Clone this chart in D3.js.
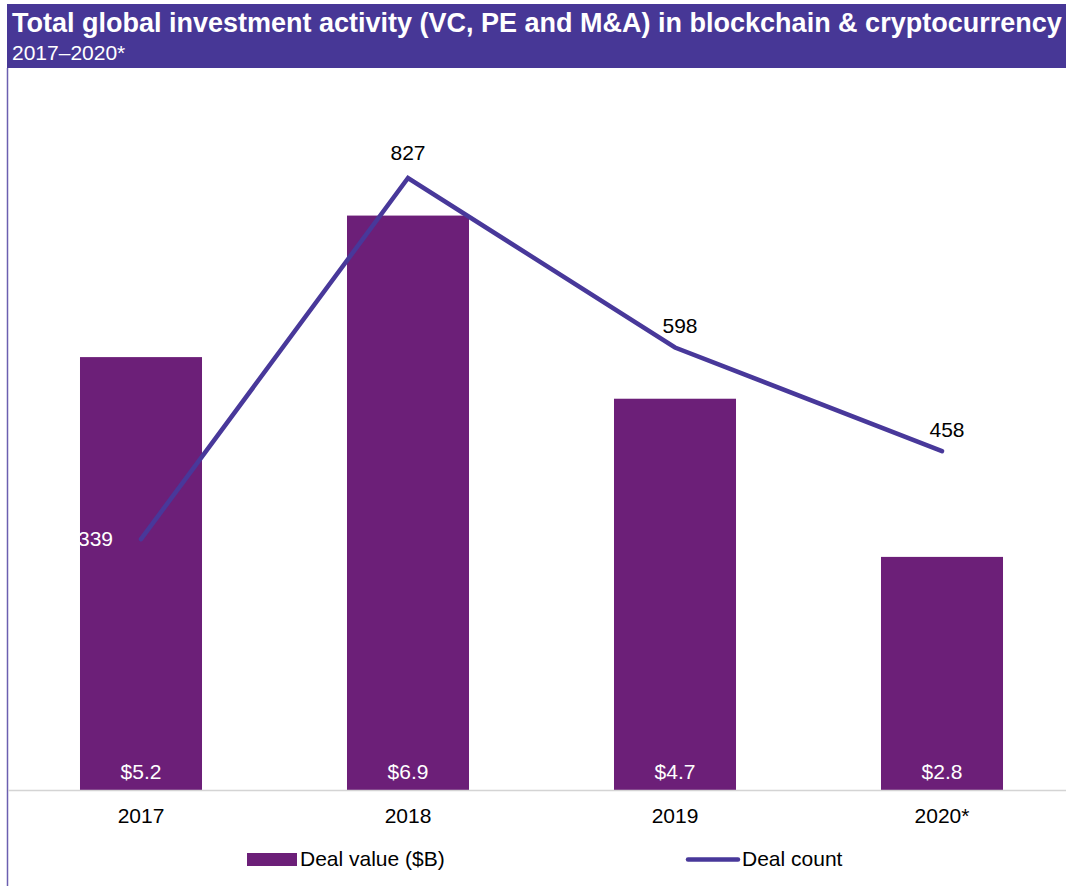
<!DOCTYPE html>
<html>
<head>
<meta charset="utf-8">
<script src="https://cdn.jsdelivr.net/npm/d3@7"></script>
<style>
  body { margin: 0; background: #fff; }
  svg { display: block; font-family: Arial, "Liberation Sans", sans-serif; }
</style>
</head>
<body>
<div id="root"></div>
<script>
// chart data
var years = ["2017", "2018", "2019", "2020*"];
var dealValue = [5.2, 6.9, 4.7, 2.8];
var dealCount = [339, 827, 598, 458];
var valueLabels = ["$5.2", "$6.9", "$4.7", "$2.8"];

var width = 1066, height = 886;
var barColor = "#6c1f78", lineColor = "#48389a", bannerColor = "#473796";

var svg = d3.select("#root").append("svg")
    .attr("width", width)
    .attr("height", height);

// title banner
svg.append("rect")
    .attr("x", 7).attr("y", 4)
    .attr("width", width - 7).attr("height", 64)
    .attr("fill", bannerColor);

svg.append("text")
    .attr("x", 12).attr("y", 32)
    .attr("fill", "#fff")
    .attr("font-size", 27)
    .attr("font-weight", "bold")
    .text("Total global investment activity (VC, PE and M&A) in blockchain & cryptocurrency");

svg.append("text")
    .attr("x", 12).attr("y", 60)
    .attr("fill", "#fff")
    .attr("font-size", 21)
    .text("2017\u20132020*");

// left border
svg.append("line")
    .attr("x1", 7.5).attr("x2", 7.5)
    .attr("y1", 68).attr("y2", height)
    .attr("stroke", "#6b5fb0")
    .attr("stroke-width", 1.5);

var baseY = 790;

var x = d3.scaleBand()
    .domain(years)
    .range([7.5, 1075.5])
    .paddingInner(0.543)
    .paddingOuter(0.2715);

var yBar = d3.scaleLinear().domain([0, 8]).range([baseY, 124]);
var yLine = d3.scaleLinear().domain([0, 900]).range([baseY, 124]);

// bars
svg.selectAll(".bar")
    .data(dealValue)
    .enter().append("rect")
    .attr("class", "bar")
    .attr("x", function(d, i) { return x(years[i]); })
    .attr("y", function(d) { return yBar(d); })
    .attr("width", x.bandwidth())
    .attr("height", function(d) { return baseY - yBar(d); })
    .attr("fill", barColor);

svg.selectAll(".barLabel")
    .data(valueLabels)
    .enter().append("text")
    .attr("class", "barLabel")
    .attr("x", function(d, i) { return x(years[i]) + x.bandwidth() / 2; })
    .attr("y", 779)
    .attr("text-anchor", "middle")
    .attr("fill", "#fff")
    .attr("font-size", 21)
    .text(function(d) { return d; });

// baseline
svg.append("line")
    .attr("x1", 8).attr("x2", width)
    .attr("y1", baseY + 0.5).attr("y2", baseY + 0.5)
    .attr("stroke", "#d4d4d4")
    .attr("stroke-width", 1.5);

// x axis labels
svg.selectAll(".year")
    .data(years)
    .enter().append("text")
    .attr("class", "year")
    .attr("x", function(d) { return x(d) + x.bandwidth() / 2; })
    .attr("y", 823)
    .attr("text-anchor", "middle")
    .attr("fill", "#000")
    .attr("font-size", 21)
    .text(function(d) { return d; });

// deal count line
var line = d3.line()
    .x(function(d, i) { return x(years[i]) + x.bandwidth() / 2; })
    .y(function(d) { return yLine(d); });

svg.append("path")
    .datum(dealCount)
    .attr("d", line)
    .attr("fill", "none")
    .attr("stroke", lineColor)
    .attr("stroke-width", 4.5)
    .attr("stroke-linecap", "round")
    .attr("stroke-linejoin", "miter");

svg.selectAll(".countLabel")
    .data(dealCount)
    .enter().append("text")
    .attr("class", "countLabel")
    .attr("x", function(d, i) {
        var cx = x(years[i]) + x.bandwidth() / 2;
        return i === 0 ? cx - 28 : (i === 1 ? cx : cx + 5);
    })
    .attr("y", function(d, i) {
        var cy = yLine(d);
        return i === 0 ? cy + 7 : (i === 1 ? cy - 18 : cy - 14);
    })
    .attr("text-anchor", function(d, i) { return i === 0 ? "end" : "middle"; })
    .attr("fill", function(d, i) { return i === 0 ? "#fff" : "#000"; })
    .attr("font-size", 21)
    .text(function(d) { return d; });

// legend
var legend = svg.append("g");
legend.append("rect")
    .attr("x", 247).attr("y", 853)
    .attr("width", 50).attr("height", 13)
    .attr("fill", barColor);
legend.append("text")
    .attr("x", 300).attr("y", 866)
    .attr("font-size", 21)
    .text("Deal value ($B)");
legend.append("line")
    .attr("x1", 688).attr("x2", 738)
    .attr("y1", 859.5).attr("y2", 859.5)
    .attr("stroke", lineColor)
    .attr("stroke-width", 4.5)
    .attr("stroke-linecap", "round");
legend.append("text")
    .attr("x", 742).attr("y", 866)
    .attr("font-size", 21)
    .text("Deal count");
</script>
</body>
</html>
